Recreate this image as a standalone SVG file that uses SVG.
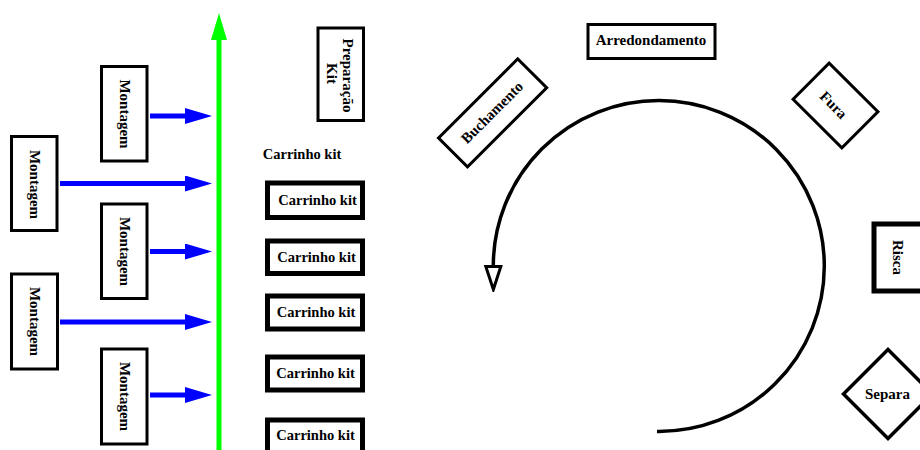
<svg xmlns="http://www.w3.org/2000/svg" width="920" height="450" viewBox="0 0 920 450">
<style>
  text { font-family: "Liberation Serif", "Times New Roman", serif; font-weight: bold; font-size: 15px; fill: #000; text-anchor: middle; dominant-baseline: central; }
  .box { fill: #fff; stroke: #000; stroke-width: 3; }
  .thick { fill: #fff; stroke: #000; stroke-width: 5; }
  .blue { stroke: #0000ff; stroke-width: 5; fill: none; }
  .green { stroke: #00ff00; stroke-width: 5; fill: none; }
  .ck { font-size: 14.5px; }
</style>
<defs>
  <marker id="bluehead" markerUnits="userSpaceOnUse" viewBox="0 -8 27 16" refX="0" refY="0" markerWidth="27" markerHeight="16" orient="auto">
    <path d="M0,-8 L27,0 L0,8 Z" fill="#0000ff"/>
  </marker>
  <marker id="greenhead" markerUnits="userSpaceOnUse" viewBox="0 -8 27 16" refX="0" refY="0" markerWidth="27" markerHeight="16" orient="auto">
    <path d="M0,-8 L27,0 L0,8 Z" fill="#00ff00"/>
  </marker>
  <marker id="openhead" markerUnits="userSpaceOnUse" viewBox="-2 -10 28 20" refX="0" refY="0" markerWidth="28" markerHeight="20" orient="auto">
    <path d="M0,-7.5 L23,0 L0,7.5 Z" fill="#fff" stroke="#000" stroke-width="3" stroke-linejoin="miter"/>
  </marker>
</defs>

<g id="connectors">
  <line class="green" x1="219" y1="450" x2="219" y2="40" marker-end="url(#greenhead)"/>
  <line class="blue" x1="150" y1="116" x2="185" y2="116" marker-end="url(#bluehead)"/>
  <line class="blue" x1="60" y1="183.5" x2="185" y2="183.5" marker-end="url(#bluehead)"/>
  <line class="blue" x1="150" y1="251.5" x2="185" y2="251.5" marker-end="url(#bluehead)"/>
  <line class="blue" x1="60" y1="322" x2="185" y2="322" marker-end="url(#bluehead)"/>
  <line class="blue" x1="150" y1="395" x2="185" y2="395" marker-end="url(#bluehead)"/>
  <path d="M657,431.5 A165.5,165.5 0 1 0 493.3,266.5" fill="none" stroke="#000" stroke-width="3.5" marker-end="url(#openhead)"/>
</g>

<g id="montagem1">
  <rect class="box" x="101.5" y="66.5" width="45.5" height="94.5"/>
  <text transform="translate(124.5,114) rotate(90)">Montagem</text>
</g>
<g id="montagem2">
  <rect class="box" x="101.5" y="204" width="45.5" height="94.5"/>
  <text transform="translate(124.5,251.5) rotate(90)">Montagem</text>
</g>
<g id="montagem3">
  <rect class="box" x="101.5" y="349" width="45.5" height="95"/>
  <text transform="translate(124.5,396.5) rotate(90)">Montagem</text>
</g>
<g id="montagemA">
  <rect class="box" x="11.5" y="136.5" width="45.5" height="94"/>
  <text transform="translate(34.5,184.5) rotate(90)">Montagem</text>
</g>
<g id="montagemB">
  <rect class="box" x="11.5" y="274" width="46" height="95"/>
  <text transform="translate(35,321.5) rotate(90)">Montagem</text>
</g>

<g id="preparacao">
  <rect class="box" x="318" y="28" width="45.5" height="92.5"/>
  <text transform="translate(348,75.5) rotate(90)">Preparação</text>
  <text transform="translate(331.5,73.5) rotate(90)">Kit</text>
</g>

<g id="carrinho-label">
  <text class="ck" x="302" y="154">Carrinho kit</text>
</g>
<g id="carrinho1">
  <rect class="thick" x="267.5" y="183" width="95" height="34.5"/>
  <text class="ck" x="317.5" y="199.5">Carrinho kit</text>
</g>
<g id="carrinho2">
  <rect class="thick" x="267.5" y="241" width="95" height="32.5"/>
  <text class="ck" x="316.5" y="257">Carrinho kit</text>
</g>
<g id="carrinho3">
  <rect class="thick" x="267.5" y="296" width="95" height="33"/>
  <text class="ck" x="316" y="312">Carrinho kit</text>
</g>
<g id="carrinho4">
  <rect class="thick" x="267.5" y="357" width="95" height="33"/>
  <text class="ck" x="315.5" y="373">Carrinho kit</text>
</g>
<g id="carrinho5">
  <rect class="thick" x="267.5" y="420" width="95" height="40"/>
  <text class="ck" x="315.5" y="435">Carrinho kit</text>
</g>

<g id="arredondamento">
  <rect class="box" x="588" y="24.5" width="127" height="34"/>
  <text x="651" y="40">Arredondamento</text>
</g>
<g id="buchamento">
  <rect class="box" x="-56" y="-20.5" width="112" height="41" transform="translate(492.6,112.9) rotate(-45)"/>
  <text transform="translate(492,112.5) rotate(-45)">Buchamento</text>
</g>
<g id="fura">
  <rect class="box" x="-34.5" y="-25.5" width="69" height="51" transform="translate(835.5,105.5) rotate(45)"/>
  <text transform="translate(833.5,105) rotate(45)">Fura</text>
</g>
<g id="risca">
  <rect class="thick" x="874" y="224" width="50" height="67"/>
  <text transform="translate(898,257.5) rotate(90)">Risca</text>
</g>
<g id="separa">
  <polygon points="888,349.5 932.5,394 888,438.5 843.5,394" fill="#fff" stroke="#000" stroke-width="3.5"/>
  <text x="887.5" y="394">Separa</text>
</g>
</svg>
